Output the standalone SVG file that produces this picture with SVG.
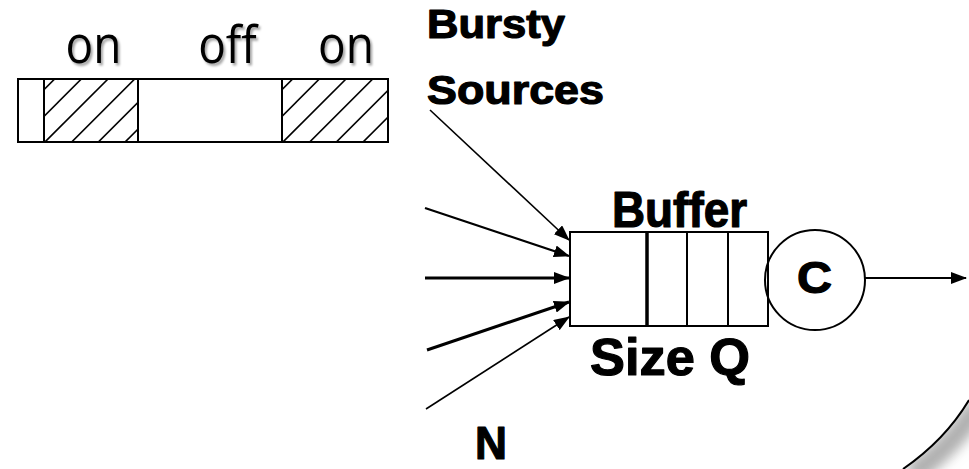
<svg xmlns="http://www.w3.org/2000/svg" width="969" height="469" viewBox="0 0 969 469">
<style>
.lbl{font-family:"Liberation Sans",Arial,sans-serif;font-weight:bold;fill:#000;stroke:#000;stroke-width:1.2;stroke-linejoin:round}
.onoff{font-family:"Open Sans","Noto Sans",sans-serif;font-size:46px;fill:#000}
.box{fill:none;stroke:#000;stroke-width:2}
.hatch{stroke:#000;stroke-width:1.6}
.conn{stroke:#000;fill:none}
</style>
<defs>
<marker id="ah" markerUnits="userSpaceOnUse" markerWidth="16" markerHeight="12" refX="15" refY="6" orient="auto">
<path d="M0,0 L16,6 L0,12 Z" fill="#000"/>
</marker>
<filter id="ts" x="-10%" y="-10%" width="130%" height="140%">
<feDropShadow dx="2" dy="2.5" stdDeviation="1.2" flood-color="#000" flood-opacity="0.35"/>
</filter>
<filter id="blur" x="-50%" y="-50%" width="200%" height="200%">
<feGaussianBlur stdDeviation="6"/>
</filter>
<clipPath id="hl"><rect x="44" y="79" width="94" height="63"/></clipPath>
<clipPath id="hr"><rect x="282" y="79" width="106" height="63"/></clipPath>
<clipPath id="outside"><path d="M903,469 Q945,440 969,400 L969,469 Z"/></clipPath>
</defs>

<rect width="969" height="469" fill="#fff"/>

<!-- page curl shadow -->
<g id="curl">
<g clip-path="url(#outside)">
<path d="M903,469 Q945,440 969,400" fill="none" stroke="#b0b0b0" stroke-width="22" filter="url(#blur)" transform="translate(8,6)"/>
</g>
<path d="M903,469 Q945,440 969,400" fill="none" stroke="#000" stroke-width="2"/>
</g>

<!-- on/off bar -->
<g id="onoff-bar">
<g filter="url(#ts)">
<text class="onoff" text-anchor="middle" transform="translate(93.5,63) scale(1,1.12)">on</text>
<text class="onoff" text-anchor="middle" transform="translate(227.5,63) scale(1,1.12)">off</text>
<text class="onoff" text-anchor="middle" transform="translate(346,63) scale(1,1.12)">on</text>
</g>
<g clip-path="url(#hl)">
<line class="hatch" x1="0" y1="133.6" x2="133.6" y2="0"/>
<line class="hatch" x1="0" y1="160.3" x2="160.3" y2="0"/>
<line class="hatch" x1="0" y1="187" x2="187" y2="0"/>
<line class="hatch" x1="0" y1="213.7" x2="213.7" y2="0"/>
<line class="hatch" x1="0" y1="240.4" x2="240.4" y2="0"/>
<line class="hatch" x1="0" y1="267.1" x2="267.1" y2="0"/>
</g>
<g clip-path="url(#hr)">
<line class="hatch" x1="200" y1="171.6" x2="371.6" y2="0"/>
<line class="hatch" x1="200" y1="198.3" x2="398.3" y2="0"/>
<line class="hatch" x1="200" y1="225" x2="425" y2="0"/>
<line class="hatch" x1="200" y1="251.7" x2="451.7" y2="0"/>
<line class="hatch" x1="200" y1="278.4" x2="478.4" y2="0"/>
<line class="hatch" x1="200" y1="305.1" x2="505.1" y2="0"/>
</g>
<rect class="box" x="18" y="79" width="370" height="63"/>
<line class="box" x1="44" y1="79" x2="44" y2="142"/>
<line class="box" x1="138" y1="79" x2="138" y2="142"/>
<line class="box" x1="282" y1="79" x2="282" y2="142"/>
</g>

<!-- labels -->
<g id="sources-label">
<text class="lbl" x="427" y="38" font-size="40" textLength="138" lengthAdjust="spacingAndGlyphs">Bursty</text>
<text class="lbl" x="427" y="104" font-size="40" textLength="177" lengthAdjust="spacingAndGlyphs">Sources</text>
</g>

<!-- buffer -->
<g id="buffer">
<text class="lbl" x="612" y="227" font-size="50" textLength="135" lengthAdjust="spacingAndGlyphs">Buffer</text>
<rect class="box" x="570" y="232" width="198" height="94"/>
<line x1="647" y1="232" x2="647" y2="326" stroke="#000" stroke-width="3.5"/>
<line class="box" x1="687" y1="232" x2="687" y2="326"/>
<line class="box" x1="728" y1="232" x2="728" y2="326"/>
<text class="lbl" x="590" y="375" font-size="52" textLength="160" lengthAdjust="spacingAndGlyphs">Size Q</text>
</g>

<!-- server -->
<g id="server">
<circle cx="815" cy="280" r="50" fill="none" stroke="#000" stroke-width="2"/>
<text class="lbl" x="797" y="293" font-size="44" textLength="35" lengthAdjust="spacingAndGlyphs">C</text>
</g>

<g id="n-label">
<text class="lbl" x="475" y="459" font-size="47" textLength="32" lengthAdjust="spacingAndGlyphs">N</text>
</g>

<!-- connectors -->
<g id="connectors">
<line class="conn" x1="430" y1="110" x2="569" y2="240" stroke-width="1.6" marker-end="url(#ah)"/>
<line class="conn" x1="425" y1="208" x2="569" y2="256" stroke-width="2.2" marker-end="url(#ah)"/>
<line class="conn" x1="425" y1="278" x2="569" y2="278" stroke-width="3" marker-end="url(#ah)"/>
<line class="conn" x1="427" y1="350" x2="569" y2="302" stroke-width="3" marker-end="url(#ah)"/>
<line class="conn" x1="426" y1="409" x2="569" y2="317" stroke-width="1.6" marker-end="url(#ah)"/>
<line class="conn" x1="865" y1="278" x2="966" y2="278" stroke-width="2" marker-end="url(#ah)"/>
</g>
</svg>
